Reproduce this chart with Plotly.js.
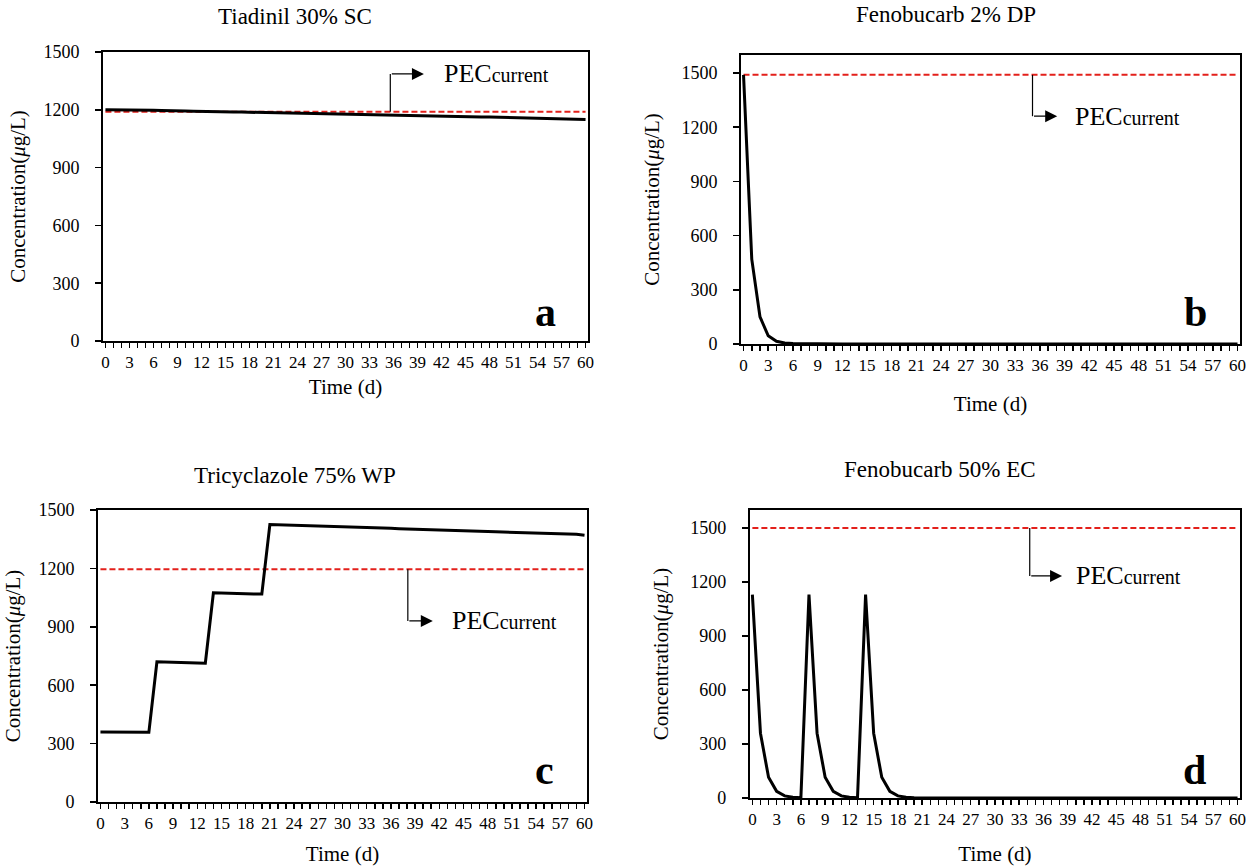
<!DOCTYPE html>
<html>
<head>
<meta charset="utf-8">
<script src="https://cdn.plot.ly/plotly-3.0.1.min.js"></script>
<style>html,body{margin:0;padding:0;background:#fff;}#chart{width:1252px;height:866px;}</style>
</head>
<body>
<div id="chart"></div>
<script>
// ---- data ----
const days = [0,1,2,3,4,5,6,7,8,9,10,11,12,13,14,15,16,17,18,19,20,21,22,23,24,25,26,27,28,29,30,
  31,32,33,34,35,36,37,38,39,40,41,42,43,44,45,46,47,48,49,50,51,52,53,54,55,56,57,58,59,60];

const tiadinil = [1200,1200,1200,1199,1198,1197,1197,1196,1196,1195,
  1193,1192,1192,1191,1191,1190,1189,1188,1187,1186,
  1185,1184,1184,1183,1182,1181,1180,1180,1179,1178,
  1177,1176,1175,1175,1174,1173,1172,1171,1170,1169,
  1168,1167,1167,1166,1165,1164,1163,1162,1162,1161,
  1160,1159,1158,1157,1157,1156,1155,1154,1154,1153,1150];

const fenobucarbDP = [1490,470,150,45,15,5,2,1,0,0,
  0,0,0,0,0,0,0,0,0,0,
  0,0,0,0,0,0,0,0,0,0,
  0,0,0,0,0,0,0,0,0,0,
  0,0,0,0,0,0,0,0,0,0,
  0,0,0,0,0,0,0,0,0,0,0];

const tricyclazole = [360,360,360,360,359,359,358,
  720,718,717,716,715,714,713,
  1075,1073,1072,1071,1070,1069,1068,
  1425,1424,1423,1422,1420,1419,1418,1416,1415,1414,
  1412,1411,1410,1408,1407,1406,1404,1403,1402,1400,
  1399,1398,1396,1395,1394,1392,1391,1390,1388,1387,
  1386,1384,1383,1382,1380,1379,1378,1376,1375,1370];

const fenobucarbEC = [1130,360,115,37,12,4,1,
  1130,360,115,37,12,4,1,
  1130,360,115,37,12,4,1,
  0,0,0,0,0,0,0,0,0,0,
  0,0,0,0,0,0,0,0,0,0,
  0,0,0,0,0,0,0,0,0,0,
  0,0,0,0,0,0,0,0,0,0];

const pecCurrent = {a: 1190, b: 1490, c: 1195, d: 1500};

const panelTitles = ['Tiadinil 30% SC', 'Fenobucarb 2% DP', 'Tricyclazole 75% WP', 'Fenobucarb 50% EC'];
const panelLetters = ['a', 'b', 'c', 'd'];

const xTickVals = [0,3,6,9,12,15,18,21,24,27,30,33,36,39,42,45,48,51,54,57,60];
const xTickText = ['0','3','6','9','12','15','18','21','24','27','30','33','36','39','42','45','48','51','54','57','60'];
const yTickVals = [0,300,600,900,1200,1500];
const yTickText = ['0','300','600','900','1200','1500'];

// ---- styling ----
const FONT = 'Liberation Serif';
const series = [tiadinil, fenobucarbDP, tricyclazole, fenobucarbEC];
const pecs = [pecCurrent.a, pecCurrent.b, pecCurrent.c, pecCurrent.d];
const axSuffix = ['', '2', '3', '4'];

const traces = [];
series.forEach((s, i) => {
  const xa = 'x' + axSuffix[i], ya = 'y' + axSuffix[i];
  traces.push({x: [days[0], days[days.length - 1]], y: [pecs[i], pecs[i]], xaxis: xa, yaxis: ya,
    mode: 'lines', line: {color: '#e3201b', width: 2, dash: '6px,3px'}, hoverinfo: 'skip'});
  traces.push({x: days, y: s, xaxis: xa, yaxis: ya, mode: 'lines',
    line: {color: '#000', width: 3}, hoverinfo: 'x+y'});
});

const xDomains = [[0.0823, 0.4696], [0.5919, 0.9904], [0.0783, 0.4688], [0.5990, 0.9904]];
const yDomains = [[0.6062, 0.9400], [0.6028, 0.9365], [0.0739, 0.4111], [0.0785, 0.4111]];
const yRanges = [[0, 1500], [0, 1600], [0, 1500], [0, 1600]];
const xStandoff = [8, 22, 14, 20];
const yStandoff = [12, 16, 12, 16];

const layout = {
  width: 1252, height: 866,
  margin: {l: 0, r: 0, t: 0, b: 0},
  paper_bgcolor: '#fff', plot_bgcolor: '#fff',
  showlegend: false,
  font: {family: FONT, color: '#000', size: 17},
  annotations: [], shapes: []
};

for (let i = 0; i < 4; i++) {
  const xk = 'xaxis' + axSuffix[i], yk = 'yaxis' + axSuffix[i];
  layout[xk] = {
    domain: xDomains[i], anchor: 'y' + axSuffix[i], range: [-0.3, 60.3],
    tickmode: 'array', tickvals: xTickVals, ticktext: xTickText,
    ticks: 'outside', ticklen: 5, tickwidth: 1.5, tickcolor: '#000',
    minor: {tickmode: 'linear', tick0: 0, dtick: 1, ticks: 'outside', ticklen: 5, tickwidth: 1.5, tickcolor: '#000'},
    showgrid: false, zeroline: false, showline: true, mirror: true, linewidth: 2, linecolor: '#000',
    tickfont: {family: FONT, size: 17, color: '#000'},
    title: {text: 'Time (d)', font: {family: FONT, size: 21, color: '#000'}, standoff: xStandoff[i]},
    automargin: false
  };
  layout[yk] = {
    domain: yDomains[i], anchor: 'x' + axSuffix[i], range: yRanges[i],
    tickmode: 'array', tickvals: yTickVals, ticktext: yTickText,
    ticks: 'outside', ticklen: 6, tickwidth: 1.5, tickcolor: '#000', ticklabelstandoff: 12,
    showgrid: false, zeroline: false, showline: true, mirror: true, linewidth: 2, linecolor: '#000',
    tickfont: {family: FONT, size: 18, color: '#000'},
    title: {text: 'Concentration(<i>μ</i>g/L)', font: {family: FONT, size: 21, color: '#000'}, standoff: yStandoff[i]},
    automargin: false
  };
}

// panel titles
const titlePos = [[0.2356, 0.9804], [0.7556, 0.9827], [0.2356, 0.4515], [0.7508, 0.4573]];
panelTitles.forEach((t, i) => {
  layout.annotations.push({text: t, xref: 'paper', yref: 'paper', x: titlePos[i][0], y: titlePos[i][1],
    xanchor: 'center', yanchor: 'middle', showarrow: false, font: {family: FONT, size: 23, color: '#000'}});
});

// panel letters
const letterPos = [[55, 150], [54.9, 177], [55.1, 164], [54.7, 155]];
panelLetters.forEach((t, i) => {
  layout.annotations.push({text: '<b>' + t + '</b>', xref: 'x' + axSuffix[i], yref: 'y' + axSuffix[i],
    x: letterPos[i][0], y: letterPos[i][1], xanchor: 'center', yanchor: 'middle', showarrow: false,
    font: {family: FONT, size: 42, color: '#000'}});
});

// PEC callouts: [vertical x, elbow y, arrow tip x, text x]
const callouts = [[35.6, 1386, 39.8, 42.1], [35.1, 1261, 38.1, 40.0], [38.1, 930, 41.2, 43.3], [34.3, 1234, 38.3, 39.8]];
callouts.forEach((c, i) => {
  const xr = 'x' + axSuffix[i], yr = 'y' + axSuffix[i];
  layout.shapes.push({type: 'line', xref: xr, yref: yr, x0: c[0], x1: c[0], y0: pecs[i], y1: c[1],
    line: {color: '#000', width: 1.2}});
  layout.annotations.push({text: '', xref: xr, yref: yr, x: c[2], y: c[1], axref: xr, ayref: yr,
    ax: c[0], ay: c[1], showarrow: true, arrowhead: 2, arrowsize: 2, arrowwidth: 1.2, arrowcolor: '#000'});
  layout.annotations.push({text: 'PEC<span style="font-size:20px">current</span>', xref: xr, yref: yr,
    x: c[3], y: c[1], xanchor: 'left', yanchor: 'middle', showarrow: false,
    font: {family: FONT, size: 26, color: '#000'}});
});

Plotly.newPlot('chart', traces, layout, {displayModeBar: false, staticPlot: true});
</script>
</body>
</html>
